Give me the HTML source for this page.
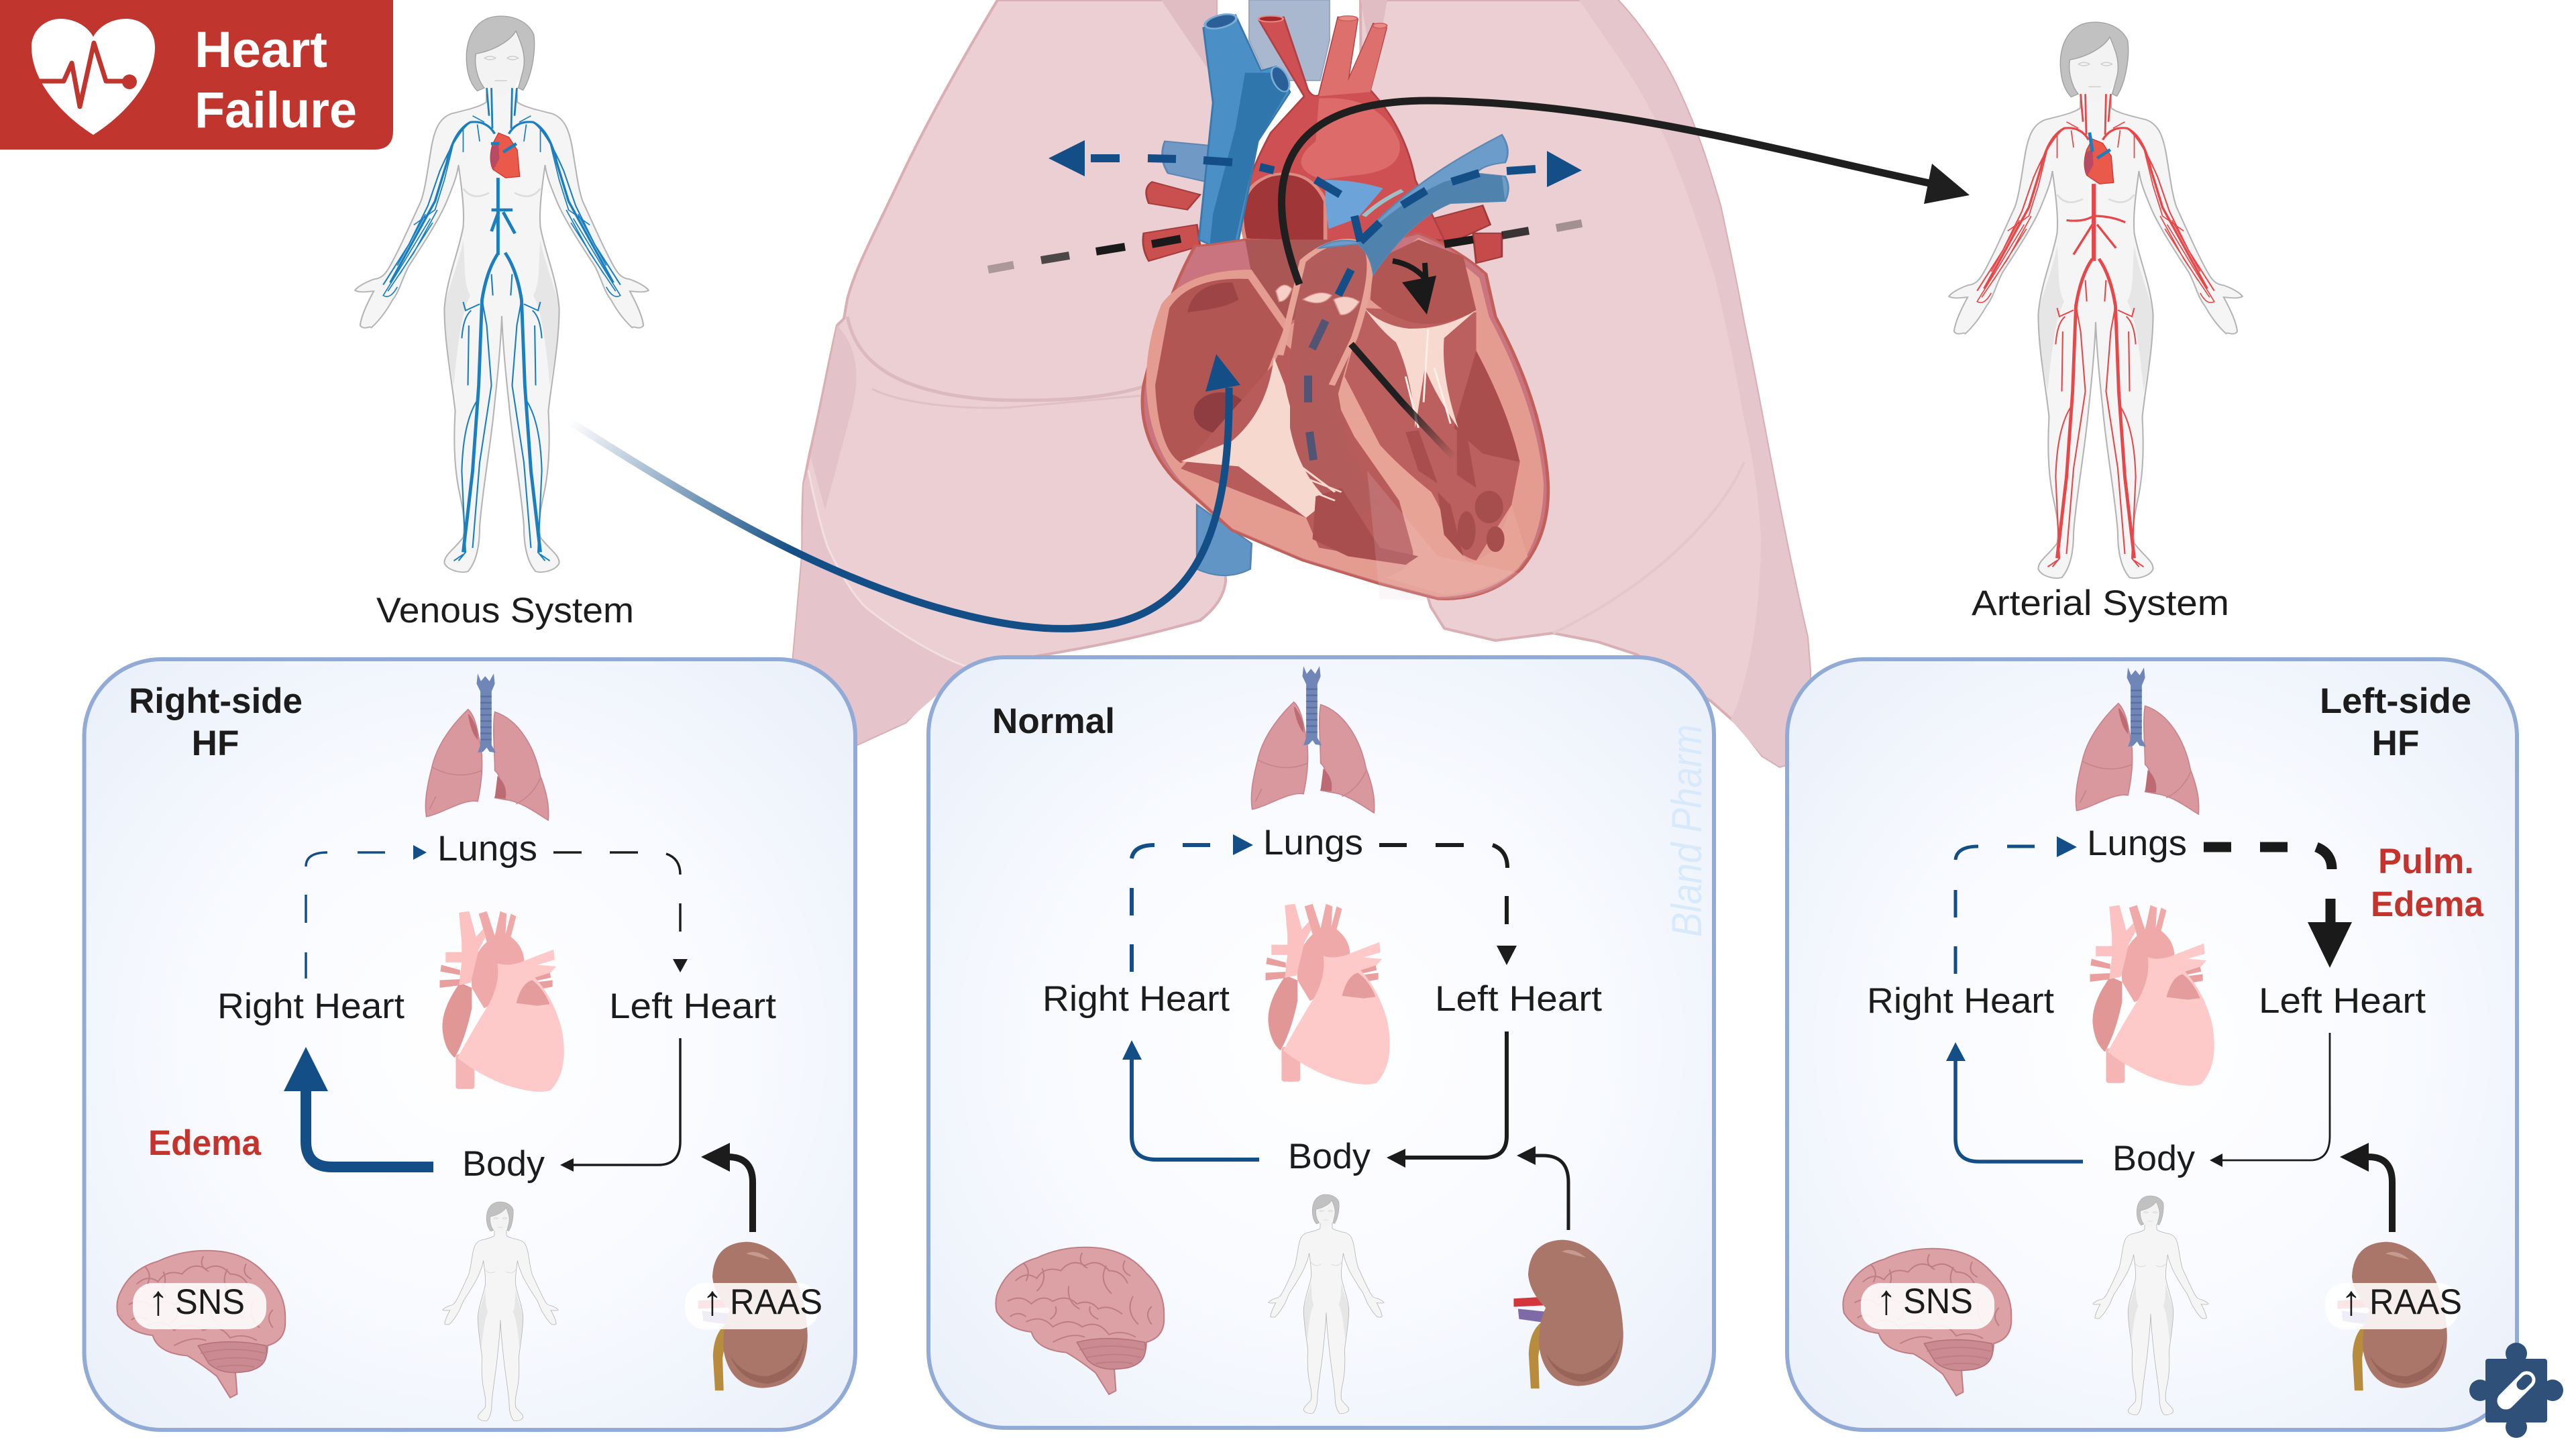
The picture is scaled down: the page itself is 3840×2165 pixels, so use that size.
<!DOCTYPE html>
<html><head><meta charset="utf-8"><title>Heart Failure</title>
<style>html,body{margin:0;padding:0;background:#fff}svg{display:block}
text{font-family:"Liberation Sans",sans-serif;fill:#1c1c1c}
.b{font-weight:bold}.r{fill:#c4342d;font-weight:bold}.t{font-size:53px}.u{font-size:62px;text-anchor:middle}</style></head>
<body>
<svg xmlns="http://www.w3.org/2000/svg" width="3840" height="2165" viewBox="0 0 3840 2165">
<defs>
<radialGradient id="pf" cx="50%" cy="50%" r="65%"><stop offset="0" stop-color="#fff"/><stop offset=".55" stop-color="#f8faff"/><stop offset="1" stop-color="#ebf1fa"/></radialGradient>
<linearGradient id="ba" gradientUnits="userSpaceOnUse" x1="849" y1="628" x2="1180" y2="825"><stop offset="0" stop-color="#134f86" stop-opacity="0"/><stop offset="1" stop-color="#134f86"/></linearGradient>
<linearGradient id="bk" gradientUnits="userSpaceOnUse" x1="2090" y1="600" x2="2167" y2="682"><stop offset="0" stop-color="#1f1f1f"/><stop offset="1" stop-color="#1f1f1f" stop-opacity="0"/></linearGradient>

<g id="half">
<path d="M1035,205 L1034,238 C1020,250 985,258 960,265 C935,275 925,300 918,340 C910,390 905,440 895,470 C870,530 850,580 830,620 C820,640 812,650 795,652 C775,660 760,670 755,678 C765,685 785,680 795,680 C780,710 768,740 766,760 C775,772 785,760 790,765 C810,745 825,720 835,700 C850,680 855,650 870,620 C900,570 935,510 950,470 C965,430 972,410 975,385 C982,440 988,490 985,530 C975,590 950,650 945,720 C945,800 960,880 968,960 C965,1020 965,1080 975,1140 C985,1190 990,1220 985,1255 C965,1285 945,1295 945,1315 C950,1330 975,1340 995,1335 C1015,1310 1020,1270 1020,1230 C1025,1150 1045,1030 1052,940 C1060,860 1065,800 1067,738 L1067,205Z" fill="#f5f5f5"/>
<path d="M945,720 C950,680 975,620 985,560 C990,620 985,660 1000,690 C985,720 975,780 965,900 C955,840 945,780 945,720Z" fill="#e6e6e6"/>
<path d="M1035,205 L1034,238 C1020,250 985,258 960,265 C935,275 925,300 918,340 C910,390 905,440 895,470 C870,530 850,580 830,620 C820,640 812,650 795,652 C775,660 760,670 755,678 C765,685 785,680 795,680 C780,710 768,740 766,760 C775,772 785,760 790,765 C810,745 825,720 835,700 C850,680 855,650 870,620 C900,570 935,510 950,470 C965,430 972,410 975,385 C982,440 988,490 985,530 C975,590 950,650 945,720 C945,800 960,880 968,960 C965,1020 965,1080 975,1140 C985,1190 990,1220 985,1255 C965,1285 945,1295 945,1315 C950,1330 975,1340 995,1335 C1015,1310 1020,1270 1020,1230 C1025,1150 1045,1030 1052,940 C1060,860 1065,800 1067,738" fill="none" stroke="#b4b4b4" stroke-width="3"/>
</g>
<g id="body">
<use href="#half"/><use href="#half" transform="translate(2134,0) scale(-1,1)"/>
<path d="M1012,125 C1050,118 1085,95 1095,75 C1105,100 1125,130 1112,165 C1100,205 1080,222 1065,224 C1040,222 1015,195 1010,150Z" fill="#f3f3f3"/>
<path d="M1065,37 C1010,37 990,90 992,140 C993,170 1000,195 1015,212 L1030,205 C1015,185 1008,150 1012,125 C1050,118 1085,95 1097,72 C1108,100 1120,130 1112,165 L1102,205 L1112,210 C1130,180 1140,120 1135,80 C1125,55 1100,37 1065,37Z" fill="#c1c1c1" stroke="#a0a0a0" stroke-width="2"/>
<path d="M1030,135 q12,-8 24,0 q-12,8 -24,0M1078,135 q12,-8 24,0 q-12,8 -24,0M1052,188 h26" fill="none" stroke="#c8c8c8" stroke-width="2"/>
<path d="M985,440 Q1005,470 1040,450M1149,440 Q1129,470 1094,450" fill="none" stroke="#dcdcdc" stroke-width="4"/>
</g>
<g id="vhalf" fill="none" stroke="currentColor">
<path d="M1045,205 L1047,300M1035,205 L1040,270" stroke-width="4"/>
<path d="M1052,312 Q1035,280 1000,285 Q965,305 950,380 L925,470 L880,560 L830,660" stroke-width="5"/>
<path d="M1000,285 Q970,310 935,400 L910,480 L870,570 L815,665" stroke-width="3"/>
<path d="M965,330 L945,420 L925,490 L880,525M930,490 L880,590 L825,680 M915,510 L860,610 L815,690 Q830,700 845,670M1005,270 L1030,285M985,300 L985,355M1015,290 L1020,330M920,520 L850,640M905,500 L845,620" stroke-width="2.5"/>
<path d="M1060,590 Q1035,630 1025,700 L1018,900 L1005,1100 L985,1290" stroke-width="7"/>
<path d="M1025,700 L1035,760 L1045,900 L1020,1080 L1005,1280M1018,930 Q985,980 982,1100 L990,1290 L975,1310M1002,725 Q985,740 982,790M1020,710 L990,725 L985,705M997,760 L995,900M1045,640 L1048,690M985,1295 L965,1310M1012,1000 L995,1200" stroke-width="3"/>
</g>
<g id="lungs">
<path d="M750,115 C715,150 690,190 682,230 C672,270 668,300 672,325 C700,320 740,290 768,295 C775,260 778,230 775,195 C768,160 765,130 750,115Z" fill="#d9979e" stroke="#c58389" stroke-width="2"/>
<path d="M800,120 C845,135 875,190 885,245 C898,280 902,305 900,332 C880,320 850,295 820,292 L800,288 C812,262 812,245 800,235 C800,200 795,150 800,120Z" fill="#d9979e" stroke="#c58389" stroke-width="2"/>
<path d="M752,125 Q770,150 768,175 Q755,160 750,125ZM805,245 Q825,265 820,290 L800,288Z" fill="#bd6a73"/>
<path d="M682,228 Q730,255 775,235M690,285 L678,310M885,250 Q870,285 840,300" fill="none" stroke="#c58389" stroke-width="2"/>
<path d="M768,45 L774,60 L782,50 L790,60 L798,45 L800,65 L794,80 L794,185 L802,200 L790,198 L785,190 L778,198 L768,200 L773,185 L773,80 L766,65Z" fill="#6f86b7"/>
<path d="M773,90h21M773,102h21M773,114h21M773,126h21M773,138h21M773,150h21M773,162h21M773,174h21" stroke="#5a70a3" stroke-width="3"/>
</g>
<g id="sheart">
<rect x="727" y="790" width="35" height="68" rx="5" fill="#f5b5b5"/>
<path d="M700,615 L735,625 L735,635 L698,628ZM697,645 L735,643 L735,655 L697,660ZM870,630 L902,625 L905,640 L870,648ZM870,650 L908,645 L908,658 L870,665Z" fill="#ea9f9f"/>
<path d="M735,650 Q700,700 702,740 Q705,780 725,797 Q745,760 757,700 L757,660Z" fill="#e29797"/>
<path d="M757,660 Q752,600 785,570 L770,515 L785,510 L800,558 L810,510 L822,515 L820,555 L830,515 L840,520 L830,560 Q855,580 855,610 L810,640 L800,690 L780,700Z" fill="#f0a9a9"/>
<path d="M733,513 L752,510 L765,560 L778,545 L783,560 L770,585 L755,650 L733,655 L738,610 L708,610 L708,590 L738,590 L738,570Z" fill="#fcc1c1"/>
<path d="M805,612 Q830,620 860,605 L910,585 L912,605 L880,615 L915,618 L905,630 L875,640 Q910,680 925,740 Q940,820 905,860 Q880,870 820,850 Q770,830 730,797 Q760,740 790,690 Q810,650 805,612Z" fill="#fec9c9"/>
<path d="M840,690 Q850,650 870,645 Q890,660 903,692 L880,695Z" fill="#e49c9c"/>
</g>
<g id="brain">
<path d="M100,1255 Q120,1210 170,1195 Q220,1170 280,1175 Q340,1180 375,1225 Q410,1260 408,1310 Q410,1350 375,1360 Q375,1400 340,1410 L315,1412 L318,1455 L305,1462 L280,1420 Q250,1395 225,1380 Q170,1375 160,1340 Q115,1335 95,1300 Q90,1275 100,1255Z" fill="#dba1a5" stroke="#bf7c83" stroke-width="2.5"/>
<path d="M245,1360 Q300,1345 372,1360 Q380,1400 340,1410 Q290,1420 265,1395Z" fill="#c98a91" stroke="#b56f77" stroke-width="2"/>
<path d="M250,1375 Q310,1360 370,1375M262,1390 Q320,1378 365,1390M280,1402 Q320,1395 350,1402M130,1240 q20,-20 40,-5 q15,-25 45,-15 q20,-25 45,-10 q25,-15 45,10 q25,0 35,25M115,1280 q25,-15 45,5 q20,-20 40,-5 q25,-15 45,5 q25,-10 40,10 q20,-10 45,10M150,1320 q30,-15 50,10 q30,-20 55,0 q30,-15 50,15 q25,-10 50,5M230,1250 q-5,30 20,45M300,1210 q-15,30 10,55M180,1215 q10,25 -10,45M350,1270 q-15,30 10,55M200,1360 q35,-20 60,-10M120,1310 q15,-12 30,0M145,1205 q15,15 5,35M255,1185 q-10,20 10,30M335,1200 q-10,20 10,30M385,1290 q-15,15 0,35M270,1290 q-5,15 15,25M205,1290 q5,15 -10,25" fill="none" stroke="#bf7c83" stroke-width="2.5"/>
</g>
<g id="kidney">
<path d="M1180,1272 L1245,1268 L1245,1285 L1180,1288Z" fill="#d3373a"/>
<path d="M1188,1292 L1245,1298 L1245,1320 L1190,1312Z" fill="#7f6aa8"/>
<path d="M1245,1310 Q1210,1325 1208,1380 L1212,1448 L1228,1448 L1226,1385 Q1230,1345 1255,1325Z" fill="#b78c3c"/>
<path d="M1270,1157 Q1210,1160 1207,1225 Q1210,1260 1240,1290 Q1225,1320 1228,1370 Q1240,1440 1300,1443 Q1385,1440 1385,1340 Q1380,1220 1320,1175 Q1295,1157 1270,1157Z" fill="#aa766a"/>
<path d="M1270,1180 q20,-10 45,12 q-25,-6 -45,-12Z" fill="#c79a8f"/>
<path d="M1240,1380 Q1260,1430 1310,1435 Q1375,1425 1380,1340 Q1375,1400 1310,1420 Q1265,1420 1240,1380Z" fill="#986358"/>
</g>
<g id="hrow">
<use href="#lungs" transform="translate(100,970) scale(.797,.762)"/>
<use href="#sheart" transform="translate(100,970) scale(.797,.762)"/>
<use href="#body" transform="translate(746,1792) scale(.2765,.2514) translate(-1067,-37)"/>
</g>
</defs>

<!-- Lungs -->
<g>
<path d="M1487,0 C1445,70 1387,170 1340,270 C1300,355 1275,400 1263,446 L1258,475 L1248,485 C1235,540 1225,600 1207,676 L1198,721 C1195,770 1197,800 1196,829 L1181,1000 L1175,1100 L1278,1110 L1350,1077 L1380,1046 L1444,995 L1559,976 C1640,962 1700,950 1789,925 C1815,905 1825,885 1827,867 L1825,700 L1813,121 L1813,0Z" fill="#ebcfd3" stroke="#d9aeb4" stroke-width="4"/>
<path d="M1731,0 L1813,0 L1813,121Z" fill="#e0bcc3"/>
<path d="M1205,701 C1215,750 1225,790 1234,816 C1250,850 1270,885 1291,906 C1340,945 1400,980 1444,995 L1350,1077 L1278,1110 L1175,1100 L1181,1000 L1196,829 L1198,721Z" fill="#e5c5cb"/>
<path d="M1248,485 Q1290,530 1270,610 L1230,760 L1208,680 L1224,606Z" fill="#e3c3c9"/>
<path d="M1263,472 C1275,530 1320,585 1480,596 C1590,600 1660,590 1703,577" fill="none" stroke="#dcb8bf" stroke-width="5"/>
<path d="M1300,580 C1340,600 1420,610 1500,608 L1700,590" fill="none" stroke="#e0c0c6" stroke-width="3"/>
<path d="M1205,701 C1215,750 1225,790 1234,816 C1250,850 1270,885 1291,906 C1340,945 1400,980 1444,995" fill="none" stroke="#f1dfe2" stroke-width="3"/>
<path d="M2028,0 L2411,0 C2440,30 2478,83 2500,130 C2535,204 2550,260 2564,306 C2580,380 2590,430 2600,485 C2625,600 2650,760 2694,950 L2698,1000 L2697,1130 L2653,1143 L2627,1127 L2593,1083 L2550,1045 L2440,976 L2382,957 L2315,944 L2229,955 L2153,937 L2133,905 L2100,800 L2030,300Z" fill="#ebcfd3" stroke="#d9aeb4" stroke-width="4"/>
<path d="M2354,0 L2411,0 C2440,30 2478,83 2500,130 C2535,204 2550,260 2564,306 C2580,380 2590,430 2600,485 C2625,600 2650,760 2694,950 L2698,1000 L2697,1130 L2653,1143 L2627,1127 L2580,1073 C2610,1010 2625,900 2625,800 C2620,720 2610,670 2600,625 C2585,540 2570,470 2555,408 C2530,330 2510,270 2487,217 C2465,170 2440,125 2420,96Z" fill="#e4c6cc"/>
<path d="M2028,0 L2068,0 L2048,108Z" fill="#e0bcc3"/>
<path d="M2315,944 C2450,880 2560,780 2600,689" fill="none" stroke="#e4c6cc" stroke-width="4"/>
</g>

<!-- Trachea -->
<path d="M1862,0 L1982,0 L1982,60 L1968,120 L1890,120 L1862,60Z" fill="#a9b7cf" stroke="#97a6c2" stroke-width="2"/>

<!-- Heart, in a convenient local space -->
<g transform="translate(1100,0) scale(.957,.638)">
<path d="M715,1180 L800,1270 L798,1330 Q760,1360 715,1330Z" fill="#6195c5" stroke="#5584b0" stroke-width="3"/>
<path d="M645,425 L720,455 L700,490 L640,475Q630,440 645,425ZM632,545 L715,525 L720,575 L640,610Q628,580 632,545Z" fill="#c9504f" stroke="#a53c3d" stroke-width="3"/>
<path d="M1060,520 L1160,480 L1172,525 L1100,575Z M1145,545 L1190,545 L1190,600 L1150,615Z" fill="#c54a4a" stroke="#9e3a3a" stroke-width="3"/>
<path d="M665,330 L735,340 L730,425 L670,405 Q655,370 665,330Z" fill="#7099c5" stroke="#5e86b4" stroke-width="3"/>
<!-- aorta -->
<path d="M812,48 L850,40 L888,210 Q895,228 905,222 L935,40 L965,45 L950,190 L990,55 L1010,65 L985,210 Q1040,300 1055,420 L1100,560 L800,570 L785,500 Q790,420 830,310 L882,225Z" fill="#cf5052" stroke="#b04044" stroke-width="3"/>
<path d="M905,230 Q1000,220 1030,330 Q1040,400 960,410 L910,420 Q850,390 900,330Z" fill="#de6e6c" opacity=".9"/>
<path d="M935,40 L965,45 L950,190 L990,55 L1010,65 L985,215 L905,225Z" fill="#dd706d"/>
<ellipse cx="830" cy="44" rx="19" ry="7" fill="#a5282e" stroke="#e88b85" stroke-width="3"/>
<ellipse cx="950" cy="43" rx="15" ry="6" fill="#e88b85" stroke="#c75a5a" stroke-width="2"/>
<ellipse cx="1000" cy="60" rx="11" ry="6" fill="#e88b85" stroke="#c75a5a" stroke-width="2"/>
<path d="M790,560 Q770,440 830,410 Q890,390 915,470 L915,570Z" fill="#a03638" stroke="#dd8c84" stroke-width="6"/>
<!-- svc -->
<path d="M725,65 L775,35 L815,165 L838,155 L860,215 L810,330 L780,560 L735,572 L718,560 L740,240Z" fill="#4b8fc7" stroke="#3c78aa" stroke-width="3"/>
<path d="M790,170 L840,170 L855,215 L810,330 L775,560 L735,572 L740,500 L775,300Z" fill="#2f76ad"/>
<ellipse cx="752" cy="50" rx="26" ry="14" fill="#2b5f97" stroke="#79acd6" stroke-width="4" transform="rotate(-25 752 50)"/>
<ellipse cx="845" cy="185" rx="12" ry="30" fill="#2b5f97" stroke="#79acd6" stroke-width="3" transform="rotate(-15 845 185)"/>
<!-- heart silhouette -->
<path d="M712,575 Q665,700 632,900 Q620,1020 680,1120 L770,1240 L880,1310 L1000,1365 L1090,1400 Q1170,1405 1220,1330 Q1265,1250 1262,1130 Q1255,950 1180,740 L1165,640 Q1120,580 1060,545 L990,570 L915,565 L790,560 L735,572Z" fill="#c9747e" stroke="#c25f58" stroke-width="5"/>
<!-- aortic root -->
<path d="M790,560 L915,560 L985,570 L1000,640 L900,720 L850,760 L800,640Z" fill="#aa5654"/>
<!-- pale wall -->
<path d="M800,630 Q700,630 660,710 Q635,800 636,900 Q640,1040 690,1125 L770,1235 L880,1305 L1000,1360 L1090,1395 Q1165,1395 1215,1330 Q1255,1250 1255,1130 Q1245,950 1170,740 L1155,650 Q1110,590 1060,555 L990,640 L860,760Z" fill="#e49b90"/>
<path d="M795,652 Q705,645 672,720 L650,900 Q655,1050 690,1082 L790,1000 L850,770Z" fill="#b25654"/>
<path d="M700,730 Q760,720 780,700 L770,660 Q710,660 700,730Z" fill="#9c4446"/>
<ellipse cx="752" cy="965" rx="42" ry="48" fill="#8f3d40"/>
<path d="M690,1095 L885,1210 L905,1280 Q980,1300 1030,1315 Q1060,1310 1055,1270 L1030,1150 L960,1000 L920,900 L850,800 L835,850Z" fill="#b85c5b"/>
<path d="M975,720 L1150,730 L1150,820 Q1200,960 1218,1080 L1205,1180 L1150,1310 Q1125,1300 1112,1270 Q1100,1200 1080,1150 Q1030,1090 1000,1040 L945,880Z" fill="#bb5f5f"/>
<path d="M990,610 L1060,560 L1130,600 L1150,725 Q1060,800 985,700Z" fill="#b25654"/>
<path d="M1115,1000 L1150,820 Q1200,960 1218,1080 L1160,1060Z" fill="#a94d4d"/>
<path d="M920,900 L945,880 L1000,1040 Q1030,1090 1080,1150 Q1100,1200 1112,1270 L1135,1310 Q1150,1320 1180,1280 L1205,1180 L1230,1300 Q1190,1380 1100,1390 L1010,1350 Q1060,1320 1050,1280 L1030,1170 L960,1020Z" fill="#e8a397"/>
<path d="M835,835 Q825,960 770,1030 L690,1078 L780,1090 L885,1210 L935,1150 Q870,1040 852,900Z" fill="#f6d8cf"/>
<path d="M975,718 Q1000,760 1045,768 Q1100,770 1150,725 L1100,790 Q1095,880 1122,1000 Q1085,920 1070,860 L1055,1000 Q1050,880 1025,800 Q1000,770 975,718Z" fill="#f7d9cf"/>
<path d="M860,830 L880,600 Q930,550 975,575 Q1000,610 960,790 L935,920 L950,1050 L1000,1180 L960,1210 Q880,1150 860,1000Z" fill="#b25c5b"/>
<path d="M845,830 L880,610 Q930,545 975,570 Q1000,610 960,790 L925,900" fill="none" stroke="#e8a397" stroke-width="10"/>
<path d="M838,680 q12,-25 25,-5 q-8,30 -20,30Z M880,700 q25,-25 45,-10 q-15,30 -45,10Z M928,700 q20,-15 40,5 q-15,35 -30,30Z" fill="#f6cfc6" stroke="#d8908a" stroke-width="2"/>
<path d="M900,1160 L940,1140 L1000,1280 L1060,1300 L1040,1320 L950,1300 L895,1260 Z M1090,1150 L1110,1180 L1130,1300 L1100,1250Z M1040,1010 L1060,1005 L1090,1130 L1060,1100Z M1120,1000 L1135,1010 L1150,1140 L1120,1110Z" fill="#a94e4f"/>
<ellipse cx="1170" cy="1185" rx="22" ry="38" fill="#a64d4d"/><ellipse cx="1135" cy="1240" rx="14" ry="45" fill="#a64d4d"/><ellipse cx="1180" cy="1260" rx="14" ry="30" fill="#a64d4d"/>
<path d="M820,1080 L940,1150M830,1110 L930,1170M850,1060 L930,1150" fill="none" stroke="#f6d8cf" stroke-width="4"/>
<path d="M1040,880 L1060,1000M1075,770 L1068,940M1085,860 L1110,990" fill="none" stroke="#fff0ea" stroke-width="3"/>
<path d="M980,1100 L1000,1400 L1090,1402 Q1170,1400 1220,1340 L1090,1300Z" fill="#ebcfd3" opacity=".18"/>
<!-- pulmonary artery -->
<path d="M905,580 Q930,555 965,565 Q1040,430 1190,315 Q1205,350 1195,380 Q1160,385 1150,405 L1195,412 Q1205,440 1195,470 L1110,475 Q1050,510 990,640 Q985,590 965,570Z" fill="#6c9cca" stroke="#5a88b4" stroke-width="3"/>
<path d="M965,570 Q1020,480 1100,425 L1150,405 L1190,412 L1195,470 L1110,475 Q1050,510 990,640 Q985,590 965,570Z" fill="#4f82ac"/>
<path d="M915,420 Q960,420 1005,440 L965,510 L920,535 L915,470Z" fill="#6ca3d8"/>
<path d="M975,505 Q1000,470 1035,445" fill="none" stroke="#9dc0c8" stroke-width="8"/>
</g>

<!-- Large arrows -->
<path d="M849,628 C1000,725 1130,800 1240,848 C1380,910 1520,945 1617,936 C1760,925 1835,830 1832,578" fill="none" stroke="url(#ba)" stroke-width="11"/>
<path d="M1813,528 L1797,584 L1849,574Z" fill="#134f86"/>
<path d="M1937,424 C1890,300 1880,150 2130,150 C2400,152 2650,225 2885,275" fill="none" stroke="#1f1f1f" stroke-width="11"/>
<path d="M2936,291 L2880,244 L2868,304Z" fill="#1f1f1f"/>
<path d="M2076,389 Q2110,395 2129,421 M2124,392 L2127,440" fill="none" stroke="#1a1a1a" stroke-width="8"/>
<path d="M2127,469 L2090,421 L2141,411Z" fill="#1a1a1a"/>
<path d="M2014,513 L2090,600" fill="none" stroke="#1f1f1f" stroke-width="10"/>
<path d="M2090,600 L2167,682" fill="none" stroke="url(#bk)" stroke-width="10"/>
<g stroke="#1a1a1a" stroke-width="12" fill="none">
<path d="M1473,402 L1511,395" opacity=".3"/><path d="M1552,388 L1594,381" opacity=".75"/><path d="M1634,375 L1677,368"/><path d="M1717,364 L1760,356"/>
<path d="M2153,364 L2196,357"/><path d="M2239,351 L2279,344" opacity=".85"/><path d="M2320,340 L2358,333" opacity=".35"/>
</g>
<g stroke="#134f86" stroke-width="12" fill="none">
<path d="M1626,236 H1669M1711,236 L1753,237M1794,239 L1837,242M1878,249 L1899,254M1961,268 L1998,290M2019,322 L2028,360M2057,332 L2028,360M2126,284 L2090,306M2205,258 L2164,271M2289,252 L2246,255M2014,402 L1995,440"/>
<path d="M1976,478 L1956,520M1950,560 V600M1952,644 L1958,686" opacity=".6"/>
</g>
<path d="M1563,236 L1617,209 L1617,263Z M2358,254 L2306,225 L2306,279Z" fill="#134f86"/>

<!-- Banner -->
<path d="M0,0 H586 V195 Q586,223 558,223 H0Z" fill="#c0362f"/>
<path d="M139,201 C90,170 47,120 47,70 C47,45 68,28 90,28 C110,28 130,38 139,55 C148,38 168,28 188,28 C212,28 231,45 231,70 C231,120 188,170 139,201Z" fill="#fff"/>
<path d="M58,121 H95 L107,94 L119,159 L140,64 L158,121 H186" fill="none" stroke="#c0362f" stroke-width="7" stroke-linejoin="round"/>
<circle cx="193" cy="122" r="11" fill="#c0362f"/>
<text x="290" y="100" font-size="76" class="b" style="fill:#fff" textLength="198" lengthAdjust="spacingAndGlyphs">Heart</text>
<text x="290" y="190" font-size="76" class="b" style="fill:#fff" textLength="242" lengthAdjust="spacingAndGlyphs">Failure</text>

<!-- Bodies -->
<g transform="translate(748,24) scale(.7015,.638) translate(-1067,-37)" style="color:#1a7fbf">
<use href="#body"/>
<use href="#vhalf"/><use href="#vhalf" transform="translate(2134,0) scale(-1,1)"/>
<path d="M1059,415 V595 M1045,490 H1090 M1060,495 L1045,540 M1070,495 L1095,545" stroke="#1a7fbf" stroke-width="7" fill="none"/>
<path d="M1048,335 L1060,310 L1082,320 L1100,350 L1105,412 L1075,415 L1048,395 Q1038,370 1048,335Z" fill="#ea5a4b" stroke="#c93a35" stroke-width="2"/>
<path d="M1048,340 L1060,335 L1062,370 L1050,395 Q1038,370 1048,340Z" fill="#b84a66"/>
<path d="M1044,335 H1062 M1070,355 L1098,335" stroke="#1a7fbf" stroke-width="7" fill="none"/>
</g>
<text x="561" y="928" font-size="53" textLength="384" lengthAdjust="spacingAndGlyphs">Venous System</text>

<g transform="translate(3124,33) scale(.7015,.638) translate(-1067,-37)" style="color:#e8474a">
<use href="#body"/>
<use href="#vhalf"/><use href="#vhalf" transform="translate(2134,0) scale(-1,1)"/>
<path d="M1063,415 V595" stroke="#e8474a" stroke-width="9" fill="none"/>
<path d="M1005,500 Q1040,505 1063,490 Q1100,490 1130,505 M1060,510 L1020,580 M1070,510 L1110,565" stroke="#e8474a" stroke-width="5" fill="none"/>
<path d="M1048,335 L1060,310 L1082,320 L1100,350 L1105,412 L1075,415 L1048,395 Q1038,370 1048,335Z" fill="#ea5a4b" stroke="#c93a35" stroke-width="2"/>
<path d="M1048,340 L1060,335 L1062,370 L1050,395 Q1038,370 1048,340Z" fill="#b84a66"/>
<path d="M1054,295 L1060,340 M1070,355 L1098,335" stroke="#1a7fbf" stroke-width="7" fill="none"/>
</g>
<text x="2939" y="917" font-size="53" textLength="384" lengthAdjust="spacingAndGlyphs">Arterial System</text>

<!-- Panels -->
<rect x="125.5" y="983" width="1149.5" height="1149" rx="115" fill="url(#pf)" stroke="#92abd6" stroke-width="6"/>
<rect x="1384" y="980" width="1171" height="1149" rx="115" fill="url(#pf)" stroke="#92abd6" stroke-width="6"/>
<rect x="2664" y="983" width="1088" height="1149" rx="115" fill="url(#pf)" stroke="#92abd6" stroke-width="6"/>

<text transform="translate(2536,1397) rotate(-90)" font-size="63" font-style="italic" style="fill:#d8e9fb" textLength="317" lengthAdjust="spacingAndGlyphs">Bland Pharm</text>

<!-- Panel 1 -->
<use href="#hrow"/>
<use href="#brain" transform="translate(100,970) scale(.797,.762)"/>
<use href="#kidney" transform="translate(100,970) scale(.797,.762)"/>
<text x="192" y="1063" class="b t" textLength="259" lengthAdjust="spacingAndGlyphs">Right-side</text>
<text x="321" y="1126" class="b t" text-anchor="middle">HF</text>
<text x="652" y="1283" class="t" textLength="149" lengthAdjust="spacingAndGlyphs">Lungs</text>
<text x="324" y="1518" class="t" textLength="279" lengthAdjust="spacingAndGlyphs">Right Heart</text>
<text x="908" y="1518" class="t" textLength="249" lengthAdjust="spacingAndGlyphs">Left Heart</text>
<text x="689" y="1753" class="t" textLength="123" lengthAdjust="spacingAndGlyphs">Body</text>
<text x="221" y="1722" class="r t" textLength="168" lengthAdjust="spacingAndGlyphs">Edema</text>
<rect x="198" y="1913" width="199" height="69" rx="30" fill="#fff" fill-opacity=".88"/>
<text x="236" y="1960" class="u">↑</text><text x="261" y="1959" class="t" textLength="104" lengthAdjust="spacingAndGlyphs">SNS</text>
<rect x="1021" y="1913" width="199" height="69" rx="30" fill="#fff" fill-opacity=".88"/>
<text x="1062" y="1960" class="u">↑</text><text x="1088" y="1959" class="t" textLength="138" lengthAdjust="spacingAndGlyphs">RAAS</text>
<g fill="none">
<path d="M456,1292 Q456,1271 488,1271 M533,1271 H574 M456,1334 V1376 M456,1420 V1459" stroke="#134f86" stroke-width="3.5"/>
<path d="M825,1271 H867 M909,1271 H951 M993,1273 Q1014,1280 1014,1304 M1014,1347 V1389" stroke="#1c1c1c" stroke-width="3.5"/>
<path d="M1014,1548 V1702 Q1014,1737 981,1737 H853" stroke="#1c1c1c" stroke-width="3.5"/>
<path d="M646,1740 H495 Q456,1740 456,1702 V1625" stroke="#134f86" stroke-width="16"/>
<path d="M1122,1837 V1763 Q1122,1725 1085,1725" stroke="#1c1c1c" stroke-width="10"/>
</g>
<path d="M636,1271 L616,1260 V1282Z M456,1561 L423,1627 H489Z" fill="#134f86"/>
<path d="M1014,1450 L1003,1430 H1025Z M835,1737 L855,1727 V1747Z M1045,1725 L1088,1704 V1747Z" fill="#1c1c1c"/>

<!-- Panel 2 -->
<use href="#hrow" transform="translate(1231,-11)"/>
<use href="#brain" transform="translate(1310,-5) translate(100,970) scale(.797,.762)"/>
<use href="#kidney" transform="translate(1216,-3) translate(100,970) scale(.797,.762)"/>
<text x="1479" y="1093" class="b t" textLength="183" lengthAdjust="spacingAndGlyphs">Normal</text>
<text x="1883" y="1274" class="t" textLength="149" lengthAdjust="spacingAndGlyphs">Lungs</text>
<text x="1554" y="1507" class="t" textLength="279" lengthAdjust="spacingAndGlyphs">Right Heart</text>
<text x="2139" y="1507" class="t" textLength="249" lengthAdjust="spacingAndGlyphs">Left Heart</text>
<text x="1920" y="1742" class="t" textLength="123" lengthAdjust="spacingAndGlyphs">Body</text>
<g fill="none">
<path d="M1687,1280 Q1690,1260 1721,1260 M1763,1260 H1804 M1687,1324 V1365 M1687,1408 V1449" stroke="#134f86" stroke-width="6"/>
<path d="M2056,1260 H2097 M2140,1260 H2182 M2225,1260 Q2247,1268 2247,1294 M2246,1336 V1378" stroke="#1c1c1c" stroke-width="6"/>
<path d="M2246,1538 V1694 Q2246,1726 2213,1726 H2095" stroke="#1c1c1c" stroke-width="6"/>
<path d="M1877,1729 H1723 Q1687,1729 1687,1694 V1580" stroke="#134f86" stroke-width="6"/>
<path d="M2338,1834 V1763 Q2338,1723 2300,1723 H2289" stroke="#1c1c1c" stroke-width="5"/>
</g>
<path d="M1868,1260 L1838,1244 V1275Z M1687,1551 L1673,1580 H1702Z" fill="#134f86"/>
<path d="M2246,1439 L2231,1410 H2261Z M2067,1726 L2095,1713 V1741Z M2261,1723 L2289,1709 V1737Z" fill="#1c1c1c"/>

<!-- Panel 3 -->
<use href="#hrow" transform="translate(2460,-9)"/>
<use href="#brain" transform="translate(2573,-3) translate(100,970) scale(.797,.762)"/>
<use href="#kidney" transform="translate(2444,0) translate(100,970) scale(.797,.762)"/>
<text x="3458" y="1063" class="b t" textLength="226" lengthAdjust="spacingAndGlyphs">Left-side</text>
<text x="3571" y="1126" class="b t" text-anchor="middle">HF</text>
<text x="3545" y="1302" class="r t" textLength="143" lengthAdjust="spacingAndGlyphs">Pulm.</text>
<text x="3534" y="1366" class="r t" textLength="168" lengthAdjust="spacingAndGlyphs">Edema</text>
<text x="3111" y="1275" class="t" textLength="149" lengthAdjust="spacingAndGlyphs">Lungs</text>
<text x="2783" y="1510" class="t" textLength="279" lengthAdjust="spacingAndGlyphs">Right Heart</text>
<text x="3367" y="1510" class="t" textLength="249" lengthAdjust="spacingAndGlyphs">Left Heart</text>
<text x="3149" y="1745" class="t" textLength="123" lengthAdjust="spacingAndGlyphs">Body</text>
<rect x="2774" y="1913" width="199" height="69" rx="30" fill="#fff" fill-opacity=".88"/>
<text x="2812" y="1959" class="u">↑</text><text x="2837" y="1958" class="t" textLength="104" lengthAdjust="spacingAndGlyphs">SNS</text>
<rect x="3466" y="1913" width="199" height="69" rx="30" fill="#fff" fill-opacity=".88"/>
<text x="3505" y="1960" class="u">↑</text><text x="3532" y="1959" class="t" textLength="138" lengthAdjust="spacingAndGlyphs">RAAS</text>
<g fill="none">
<path d="M2915,1282 Q2917,1262 2949,1262 M2992,1262 H3033 M2915,1327 V1368 M2915,1411 V1452" stroke="#134f86" stroke-width="5"/>
<path d="M3285,1263 H3326 M3369,1263 H3410 M3453,1263 Q3476,1272 3476,1296 M3474,1340 V1380" stroke="#1a1a1a" stroke-width="15"/>
<path d="M3473,1540 V1694 Q3473,1730 3444,1730 H3313" stroke="#1c1c1c" stroke-width="2.8"/>
<path d="M3105,1732 H2950 Q2915,1732 2915,1698 V1582" stroke="#134f86" stroke-width="5.5"/>
<path d="M3566,1837 V1763 Q3566,1725 3531,1725" stroke="#1c1c1c" stroke-width="10"/>
</g>
<path d="M3096,1263 L3066,1247 V1278Z M2915,1554 L2901,1582 H2930Z" fill="#134f86"/>
<path d="M3473,1443 L3440,1375 H3506Z M3294,1730 L3313,1720 V1740Z M3488,1725 L3531,1704 V1747Z" fill="#1a1a1a"/>

<!-- Puzzle icon -->
<g fill="#2f5078">
<rect x="3705" y="2026" width="92" height="95" rx="4"/>
<circle cx="3751" cy="2018" r="16"/><circle cx="3751" cy="2128" r="16"/>
<circle cx="3697" cy="2073" r="16"/><circle cx="3805" cy="2073" r="16"/>
</g>
<g transform="rotate(-45 3751 2073)"><rect x="3716" y="2060" width="70" height="26" rx="13" fill="#fff"/><rect x="3755" y="2065" width="26" height="16" rx="8" fill="#2f5078"/></g>
</svg>
</body></html>
